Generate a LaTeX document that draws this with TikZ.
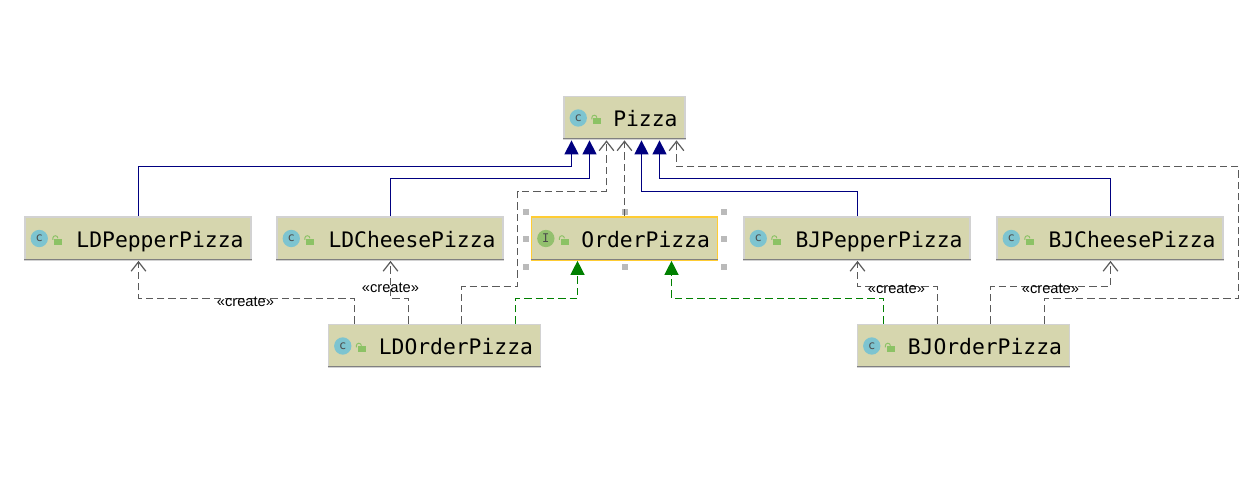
\documentclass[tikz,border=0pt]{standalone}
\usepackage{fontspec}
\setmainfont{Liberation Sans}
\newfontfamily\umlmono{DejaVu Sans Mono}
\usetikzlibrary{arrows.meta}
\definecolor{boxfill}{HTML}{D6D6AE}
\definecolor{boxedge}{HTML}{D2D2D2}
\definecolor{boxline}{HTML}{808080}
\definecolor{extblue}{HTML}{000080}
\definecolor{implgreen}{HTML}{008000}
\definecolor{depgray}{HTML}{5A5A5A}
\definecolor{classicon}{HTML}{7DC4D0}
\definecolor{ifaceicon}{HTML}{93C06E}
\definecolor{lockgreen}{HTML}{8CC265}
\definecolor{selyellow}{HTML}{FFCC33}
\tikzset{
  classbox/.style={draw=boxedge,fill=boxfill,line width=1.1pt,minimum height=32.5pt,inner sep=0pt},
  selbox/.style={classbox,draw=selyellow,line width=1pt},
  classname/.style={anchor=base east,inner sep=0pt,font=\umlmono\fontsize{16}{16}\selectfont},
  kindicon/.style={circle,fill=classicon,minimum size=13pt,inner sep=0pt,text=black!70,font=\umlmono\fontsize{9}{9}\selectfont},
  extends/.style={draw=extblue,line width=1pt,-{Triangle[length=10.5pt,width=10.5pt,fill=extblue]}},
  implements/.style={draw=implgreen,line width=1pt,dash pattern=on 5.5pt off 3pt,-{Triangle[length=10.5pt,width=10.5pt,fill=implgreen]}},
  depends/.style={draw=depgray,line width=1pt,dash pattern=on 5.5pt off 3pt,-{Straight Barb[length=7pt,width=11pt,line width=.9pt]}},
  createlabel/.style={inner sep=0pt,font=\fontsize{11}{11}\selectfont},
  handle/.style={fill=black!27}
}
% box, icon, lock and name of one class
\newcommand{\classnode}[8][classbox]{%
  \node[#1,minimum width=#5*.75pt] (#2) at (#3,#4) {};
  \node[kindicon,#7] (#2icon) at ([xshift=11.25pt]#2.west) {#8};
  \fill[lockgreen] ([xshift=22.5pt,yshift=-4.6pt]#2.west) rectangle ([xshift=28.5pt,yshift=0pt]#2.west);
  \draw[lockgreen,line width=.7pt] ([xshift=25.2pt,yshift=.2pt]#2.west) arc (0:180:1.9pt) -- ++(0,-1.2pt);
  \draw[boxline,line width=.8pt] ([yshift=1.2pt]#2.south west) -- ([yshift=1.2pt]#2.south east);
  \node[classname] (#2name) at ([xshift=-6pt,yshift=-6.4pt]#2.east) {#6};}
\begin{document}
\begin{tikzpicture}[x=.75pt,y=-.75pt]
\useasboundingbox (0,0) rectangle (1254,485);
\fill[white] (0,0) rectangle (1254,485);
\classnode{pizza}{624.5}{118}{121}{Pizza}{}{c}
\classnode{ldpepper}{138}{238.5}{226}{LDPepperPizza}{}{c}
\classnode{ldcheese}{390}{238.5}{226}{LDCheesePizza}{}{c}
\classnode[selbox]{orderpizza}{624.5}{238.5}{186}{OrderPizza}{fill=ifaceicon}{I}
\classnode{bjpepper}{857}{238.5}{226}{BJPepperPizza}{}{c}
\classnode{bjcheese}{1110}{238.5}{226}{BJCheesePizza}{}{c}
\classnode{ldorder}{434.5}{346}{212}{LDOrderPizza}{}{c}
\classnode{bjorder}{963.5}{346}{212}{BJOrderPizza}{}{c}
% selection handles round the interface
\foreach \hx in {526,625,724}
  \foreach \hy in {212,267}
    \fill[handle] (\hx-3,\hy-3) rectangle (\hx+3,\hy+3);
\foreach \hx in {526,724}
  \fill[handle] (\hx-3,236) rectangle (\hx+3,242);
% inheritance
\draw[extends] (ldpepper.north -| 138.5,0) |- (571.5,166.5) -- (pizza.south -| 571.5,0);
\draw[extends] (ldcheese.north -| 390.5,0) |- (589.5,178.5) -- (pizza.south -| 589.5,0);
\draw[extends] (bjpepper.north -| 857.5,0) |- (641.5,191.5) -- (pizza.south -| 641.5,0);
\draw[extends] (bjcheese.north -| 1110.5,0) |- (659.5,178.5) -- (pizza.south -| 659.5,0);
% realization
\draw[implements] (ldorder.north -| 515.5,0) |- (577.5,298.5) -- (orderpizza.south -| 577.5,0);
\draw[implements] (bjorder.north -| 883.5,0) |- (671.5,298.5) -- (orderpizza.south -| 671.5,0);
% dependencies
\draw[depends] (orderpizza.north) -- (pizza.south);
\draw[depends] (ldorder.north -| 461.5,0) |- (517.5,286.5) -- (517.5,191.5) -- (606.5,191.5) -- (pizza.south -| 606.5,0);
\draw[depends] (bjorder.north -| 1044.5,0) |- (1238.5,298.5) -- (1238.5,166.5) -- (676.5,166.5) -- (pizza.south -| 676.5,0);
\draw[depends] (ldorder.north -| 354.5,0) |- (138.5,298.5) -- (ldpepper.south -| 138.5,0);
\draw[depends] (ldorder.north -| 408.5,0) |- (390.5,298.5) -- (ldcheese.south -| 390.5,0);
\draw[depends] (bjorder.north -| 937.5,0) |- (857.5,286.5) -- (bjpepper.south -| 857.5,0);
\draw[depends] (bjorder.north -| 990.5,0) |- (1110.5,286.5) -- (bjcheese.south -| 1110.5,0);
% stereotypes
\node[createlabel] (createA) at (245.5,301.5) {«create»};
\node[createlabel] (createB) at (390.5,288) {«create»};
\node[createlabel] (createC) at (896.5,289) {«create»};
\node[createlabel] (createD) at (1050.5,289) {«create»};
\end{tikzpicture}
\end{document}
